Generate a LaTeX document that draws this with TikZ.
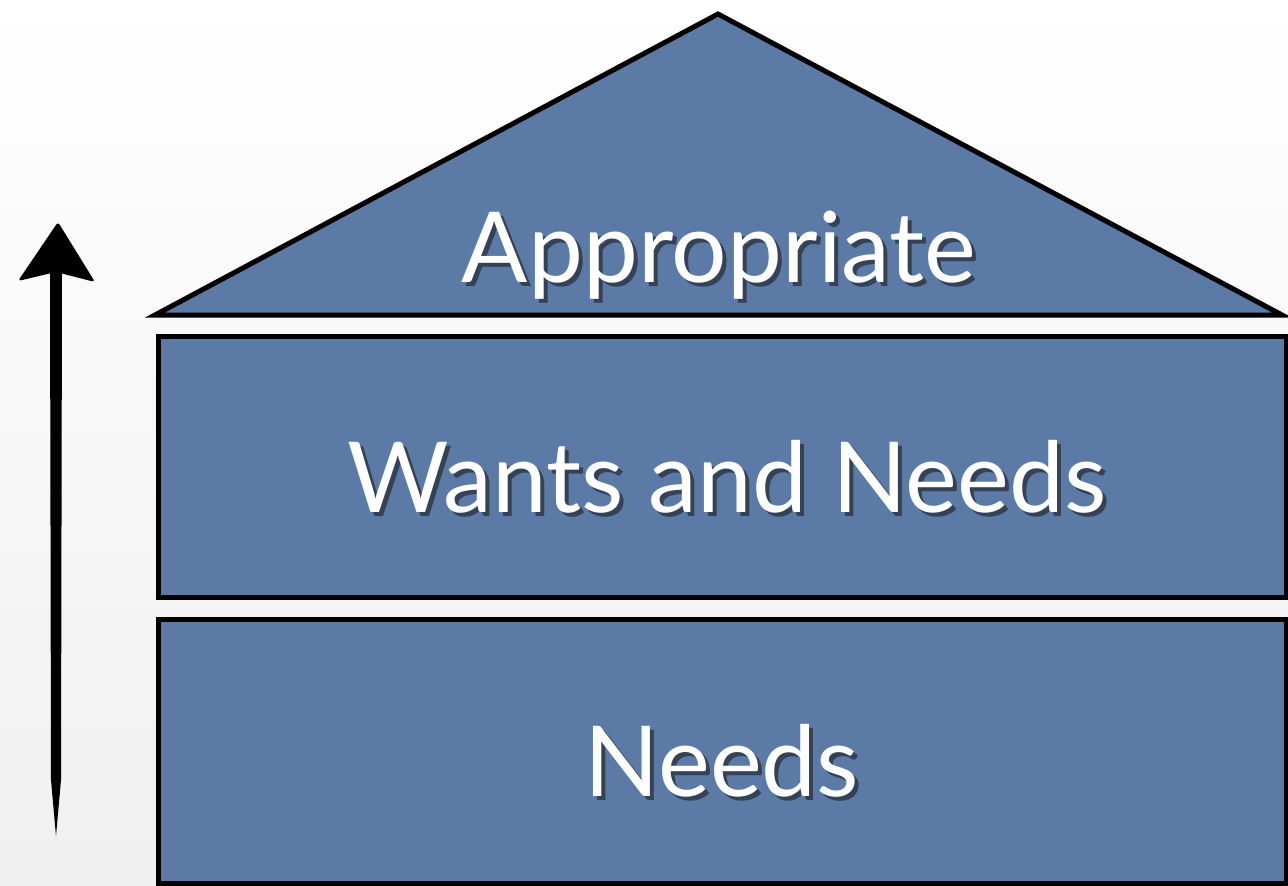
\documentclass[tikz,border=0pt]{standalone}
\usepackage{fontspec}
\setmainfont{Lato}
\usetikzlibrary{calc}

\definecolor{roofblue}{RGB}{91,122,166}
\definecolor{shadowgray}{RGB}{52,66,88}
\newcommand{\levelfont}{\fontsize{98}{100}\selectfont}
% 影付きの文字 (影を右下へ少しずらす)
\newcommand{\withshadow}[1]{\rlap{\raisebox{-4pt}{\hspace{4pt}\textcolor{shadowgray}{#1}}}#1}

\tikzset{
  floor/.style={draw=black, line width=5pt, fill=roofblue, line join=miter},
  floorlabel/.style={text=white, font=\levelfont, anchor=base, inner sep=0pt}
}

\begin{document}
\begin{tikzpicture}[x=1pt, y=-1pt]
    % 背景 (上が白、下がわずかに灰色)
    \shade[top color=white, bottom color=black!6!white] (0,0) rectangle (1288,886);
    \useasboundingbox (0,0) rectangle (1288,886);

    % 屋根と二つの階の頂点
    \coordinate (apex) at (718,14);
    \coordinate (roofL) at (155,315);
    \coordinate (roofR) at (1282,315);

    % 屋根 (三角形) と二つの階 (長方形)
    \draw[floor] (roofL) -- (apex) -- (roofR) -- cycle;
    \draw[floor] (158,336) rectangle (1286,597);
    \draw[floor] (158,619) rectangle (1286,883);

    % 文字
    \foreach \name/\x/\y/\txt in {top/719/282/Appropriate, mid/727/512/Wants and Needs, low/722/796/Needs} {
        \node[floorlabel] (\name) at (\x,\y) {\withshadow{\txt}};
    }

    % 左の矢印 (手描き風に先細り)
    \coordinate (tip) at (58,222);
    \coordinate (tail) at (56,836);
    \fill[rounded corners=3pt] (tip) -- (18,281) -- (56,272) -- (95,282) -- cycle;
    \fill (50,272) -- (62,272) -- (61,780) -- (tail) -- (51,780) -- cycle;
\end{tikzpicture}
\end{document}
